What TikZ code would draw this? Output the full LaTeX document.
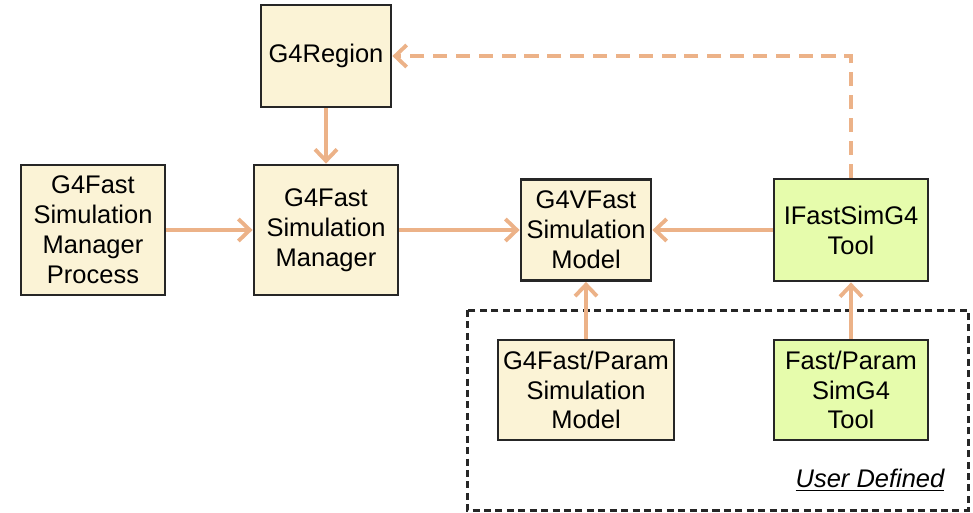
\documentclass[tikz,border=0pt]{standalone}
\usepackage{fontspec}
\setmainfont{Liberation Sans}
\usetikzlibrary{arrows.meta,positioning}
\definecolor{cream}{RGB}{251,243,214}
\definecolor{limey}{RGB}{230,252,172}
\definecolor{peach}{RGB}{236,178,136}

\begin{document}
\begin{tikzpicture}[on grid,
    box/.style={draw=black!85,line width=1.6pt,align=center,inner sep=0pt,
      font=\fontsize{14.5}{17}\selectfont},
    cbox/.style={box,fill=cream},
    gbox/.style={box,fill=limey},
    >={Straight Barb[length=6.5pt,width=12.5pt]},
    flow/.style={->,draw=peach,line width=2.2pt}]
    \useasboundingbox (0,0) rectangle (19.46,-10.24);
    \node[cbox,minimum width=2.88cm,minimum height=2.6cm] (proc) at (1.86,-4.6)
      {G4Fast\\Simulation\\Manager\\Process};
    \node[cbox,minimum width=2.88cm,minimum height=2.6cm] (mgr) [right=4.66cm of proc]
      {G4Fast\\Simulation\\Manager};
    \node[cbox,minimum width=2.6cm,minimum height=2.04cm] (region) [above=3.48cm of mgr]
      {G4Region};
    \node[cbox,minimum width=2.6cm,minimum height=2.02cm] (model) [right=5.2cm of mgr]
      {G4VFast\\Simulation\\Model};
    \node[gbox,minimum width=3.08cm,minimum height=2.04cm] (itool) [right=5.3cm of model]
      {IFastSimG4\\Tool};
    \node[cbox,minimum width=3.52cm,minimum height=2.0cm] (param) [below=3.2cm of model]
      {G4Fast/Param\\Simulation\\Model};
    \node[gbox,minimum width=3.08cm,minimum height=2.0cm] (tool) [below=3.2cm of itool]
      {Fast/Param\\SimG4\\Tool};
    % user defined area
    \draw[black!85,line width=1.7pt,dash pattern=on 4pt off 2.5pt]
      (9.34,-6.2) rectangle (19.36,-10.2);
    \node[font=\fontsize{14.5}{17}\selectfont\itshape] (user) at (17.4,-9.6)
      {\underline{User Defined}};
    \path[flow]
     (proc)   edge  (mgr)
     (region) edge  (mgr)
     (mgr)    edge  (model)
     (itool)  edge  (model)
     (param)  edge  (model)
     (tool)   edge  (itool);
    \draw[flow,dash pattern=on 8pt off 5pt] (itool.north) |- (region.east);
\end{tikzpicture}
\end{document}
